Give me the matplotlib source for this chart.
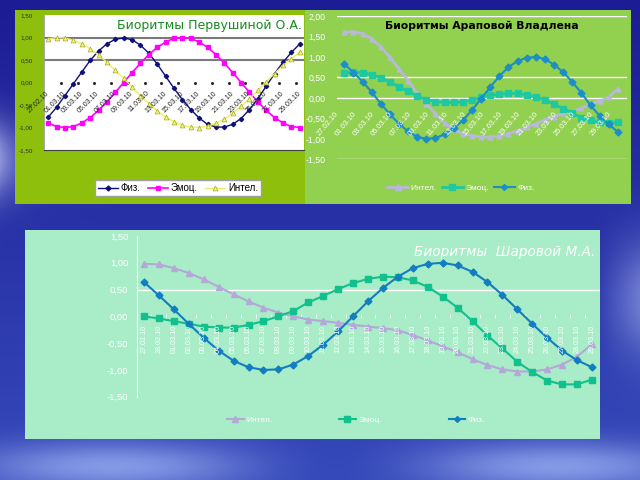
import numpy as np
import matplotlib
matplotlib.use("Agg")
import matplotlib.pyplot as plt
from matplotlib.lines import Line2D

plt.rcParams['font.family'] = ['Liberation Sans', 'DejaVu Sans']

# ---- data ----
dates = ['27.02.10', '28.02.10', '01.03.10', '02.03.10', '03.03.10', '04.03.10', '05.03.10',
         '06.03.10', '07.03.10', '08.03.10', '09.03.10', '10.03.10', '11.03.10', '12.03.10',
         '13.03.10', '14.03.10', '15.03.10', '16.03.10', '17.03.10', '18.03.10', '19.03.10',
         '20.03.10', '21.03.10', '22.03.10', '23.03.10', '24.03.10', '25.03.10', '26.03.10',
         '27.03.10', '28.03.10', '29.03.10']
dates_2 = dates[::2]

# Первушина
p1_fiz = [-0.77, -0.55, -0.29, -0.03, 0.23, 0.49, 0.70, 0.86, 0.96, 0.99, 0.95, 0.83, 0.65, 0.41,
          0.14, -0.13, -0.38, -0.60, -0.79, -0.93, -0.99, -0.99, -0.93, -0.80, -0.60, -0.36,
          -0.08, 0.20, 0.45, 0.67, 0.86]
p1_emo = [-0.90, -0.98, -1.00, -0.98, -0.90, -0.78, -0.62, -0.43, -0.22, 0.00, 0.22, 0.43, 0.62,
          0.78, 0.90, 0.98, 1.00, 0.98, 0.90, 0.78, 0.62, 0.43, 0.22, 0.00, -0.22, -0.43, -0.62,
          -0.78, -0.90, -0.98, -1.00]
p1_int = [0.97, 1.00, 0.99, 0.94, 0.86, 0.75, 0.61, 0.45, 0.27, 0.09, -0.10, -0.29, -0.47, -0.63,
          -0.77, -0.87, -0.95, -0.99, -1.00, -0.97, -0.91, -0.81, -0.68, -0.53, -0.36, -0.17,
          0.02, 0.20, 0.38, 0.53, 0.68]

# Арапова
p2_int = [1.60, 1.62, 1.57, 1.45, 1.24, 0.99, 0.71, 0.42, 0.11, -0.14, -0.39, -0.61, -0.77, -0.88,
          -0.92, -0.95, -0.96, -0.93, -0.88, -0.80, -0.72, -0.63, -0.54, -0.46, -0.38, -0.33,
          -0.25, -0.15, -0.08, 0.02, 0.22]
p2_emo = [0.60, 0.63, 0.61, 0.57, 0.49, 0.39, 0.27, 0.16, 0.04, -0.04, -0.09, -0.11, -0.11, -0.10,
          -0.05, 0.01, 0.06, 0.09, 0.11, 0.11, 0.07, 0.03, -0.05, -0.15, -0.26, -0.37, -0.48,
          -0.55, -0.60, -0.61, -0.60]
p2_fiz = [0.83, 0.62, 0.40, 0.14, -0.14, -0.40, -0.63, -0.82, -0.95, -1.00, -0.98, -0.89, -0.74,
          -0.55, -0.30, -0.02, 0.26, 0.53, 0.75, 0.90, 0.98, 1.00, 0.95, 0.81, 0.63, 0.39, 0.12,
          -0.18, -0.44, -0.65, -0.83]

# Шарова
p3_int = [0.98, 0.97, 0.90, 0.81, 0.69, 0.55, 0.41, 0.28, 0.16, 0.07, 0.00, -0.06, -0.09, -0.12,
          -0.16, -0.19, -0.22, -0.26, -0.35, -0.45, -0.56, -0.67, -0.80, -0.91, -0.99, -1.03,
          -1.03, -0.99, -0.90, -0.75, -0.52]
p3_emo = [0.00, -0.04, -0.09, -0.14, -0.19, -0.21, -0.21, -0.16, -0.09, 0.00, 0.10, 0.26, 0.38,
          0.51, 0.62, 0.70, 0.74, 0.73, 0.67, 0.55, 0.37, 0.16, -0.09, -0.36, -0.60, -0.85,
          -1.04, -1.20, -1.27, -1.27, -1.18]
p3_fiz = [0.64, 0.39, 0.13, -0.14, -0.40, -0.64, -0.83, -0.95, -1.00, -0.99, -0.90, -0.74, -0.53,
          -0.28, 0.00, 0.28, 0.53, 0.74, 0.90, 0.98, 1.00, 0.95, 0.83, 0.64, 0.40, 0.13, -0.14,
          -0.40, -0.64, -0.82, -0.95]

x = np.arange(len(dates))


def box(x0, y0, x1, y1):
    # pixel box -> figure fraction
    return [x0 / 640, 1 - y1 / 480, (x1 - x0) / 640, (y1 - y0) / 480]


def fmt(v):
    return f"{v:.2f}".replace('.', ',')


def panel(b, color):
    a = fig.add_axes(box(*b), zorder=-1)
    a.set_facecolor(color)
    a.set_xticks([])
    a.set_yticks([])
    for s in a.spines.values():
        s.set_visible(False)
    return a


fig = plt.figure(figsize=(6.4, 4.8), dpi=100)

# blue slide background
H, W = 480, 640
yy, xx = np.mgrid[0:H, 0:W]
yy = yy / H
xx = xx / W
bg = np.zeros((H, W, 3))
bg[..., 0] = 0.11 + 0.10 * yy
bg[..., 1] = 0.11 + 0.18 * yy
bg[..., 2] = 0.58 + 0.15 * yy
glow = 0.45 * np.exp(-((yy - 0.33) / 0.08) ** 2) * np.exp(-xx / 0.04)
glow += 0.35 * np.exp(-((yy - 0.97) / 0.05) ** 2) * (0.5 + 0.5 * np.sin(xx * 9))
glow += 0.30 * np.exp(-((yy - 0.62) / 0.12) ** 2) * np.clip((xx - 0.93) / 0.07, 0, 1)
for c in range(3):
    bg[..., c] = np.clip(bg[..., c] + glow * (0.9 if c < 2 else 0.5), 0, 1)
bga = fig.add_axes([0, 0, 1, 1], zorder=-2)
bga.imshow(bg, aspect='auto')
bga.axis('off')

# ---------------- chart 1 ----------------
panel((15, 10, 305, 204), '#8dbf0c')
ax1 = fig.add_axes(box(44, 15, 304, 150))
ax1.set_facecolor('white')
ax1.set_xlim(-0.5, 30.5)
ax1.set_ylim(-1.5, 1.5)
for v in [1.0, 0.5]:
    ax1.axhline(v, color='#7a7a7a', lw=1.5, zorder=1)
ax1.plot(x, p1_fiz, color='#10107a', lw=1, marker='D', ms=2.2, zorder=3)
ax1.plot(x, p1_emo, color='#ff00ff', lw=1.2, marker='s', ms=3.5, zorder=3)
ax1.plot(x, p1_int, color='#eef060', lw=1, marker='^', ms=3.5, mfc='#f4f480', mec='#a8a820',
         mew=0.5, zorder=3)
ax1.plot(np.arange(1.5, 30, 2), np.zeros(15), ls='none', marker='s', ms=1, color='#202020')
ax1.set_xticks([])
yt = np.arange(-1.5, 1.51, 0.5)
ax1.set_yticks(yt)
ax1.set_yticklabels([fmt(v) for v in yt], fontsize=4.5, color='#303030')
ax1.tick_params(axis='y', length=0, pad=8)
for s in ['top', 'right']:
    ax1.spines[s].set_visible(False)
ax1.spines['left'].set_color('#999999')
ax1.spines['left'].set_linewidth(0.6)
ax1.spines['bottom'].set_color('#404040')
for i, lab in zip(x[::2], dates_2):
    ax1.text(i, -0.22, lab, rotation=45, rotation_mode='anchor', ha='right', va='center',
             fontsize=5, color='#222222', zorder=5)
fig.text(302 / 640, 1 - 25 / 480, 'Биоритмы Первушиной О.А.', ha='right', va='center',
         fontsize=9, color='#1a8a22', family='DejaVu Sans')
h1 = [Line2D([], [], color='#10107a', lw=1, marker='D', ms=2.5),
      Line2D([], [], color='#ff00ff', lw=1.2, marker='s', ms=3.5),
      Line2D([], [], color='#eef060', lw=1, marker='^', ms=3.5, mfc='#f4f480', mec='#a8a820',
             mew=0.5)]
fig.legend(h1, ['Физ.', 'Эмоц.', 'Интел.'], loc='center', bbox_to_anchor=(178 / 640, 1 - 188 / 480),
           ncol=3, fontsize=7, frameon=True, fancybox=False, edgecolor='#a0a0a0', framealpha=1,
           handlelength=2, handletextpad=0.3, columnspacing=0.8, borderpad=0.35)

# ---------------- chart 2 ----------------
panel((305, 10, 631, 204), '#92d050')
ax2 = fig.add_axes(box(337, 16, 627, 159.3))
ax2.patch.set_visible(False)
ax2.set_xlim(-0.8, 31.0)
ax2.set_ylim(-1.5, 2.0)
for v in [2.0, 0.5, 0.0, -1.5]:
    ax2.axhline(v, color='white', lw=1, zorder=1)
ax2.plot(x, p2_int, color='#b8b8d8', lw=2, marker='^', ms=3.5, zorder=3)
ax2.plot(x, p2_emo, color='#1ec8a0', lw=2, marker='s', ms=5, zorder=3)
ax2.plot(x, p2_fiz, color='#1c8ec8', lw=1.5, marker='D', ms=3.5, zorder=3)
ax2.set_xticks([])
yt2 = np.arange(-1.5, 2.01, 0.5)
ax2.set_yticks(yt2)
ax2.set_yticklabels([fmt(v) for v in yt2], fontsize=6.3, color='white')
ax2.tick_params(axis='y', length=0, pad=8)
for s in ax2.spines.values():
    s.set_visible(False)
for i, lab in zip(x[::2], dates_2):
    ax2.text(i - 0.8, -0.36, lab, rotation=50, rotation_mode='anchor', ha='right', va='center',
             fontsize=5.4, color='white', zorder=5)
fig.text(482 / 640, 1 - 26 / 480, 'Биоритмы Араповой Владлена', ha='center', va='center',
         fontsize=7.8, color='black', fontweight='bold', family='DejaVu Sans')
h2 = [Line2D([], [], color='#b8b8d8', lw=2, marker='^', ms=4),
      Line2D([], [], color='#1ec8a0', lw=2, marker='s', ms=4),
      Line2D([], [], color='#1c8ec8', lw=1.5, marker='D', ms=3)]
fig.legend(h2, ['Интел.', 'Эмоц.', 'Физ.'], loc='center', bbox_to_anchor=(461 / 640, 1 - 188 / 480),
           ncol=3, fontsize=6, frameon=False, labelcolor='white', handlelength=2.5,
           handletextpad=0.3, columnspacing=0.6)

# ---------------- chart 3 ----------------
panel((25, 230, 600, 439), '#a8ecc8')
ax3 = fig.add_axes(box(136.5, 236, 599.5, 396.7))
ax3.patch.set_visible(False)
ax3.set_xlim(-0.5, 30.5)
ax3.set_ylim(-1.5, 1.5)
ax3.axhline(0.5, color='white', lw=1, zorder=1)
ax3.plot(x, p3_int, color='#b4a8d8', lw=1.5, marker='^', ms=4, zorder=3)
ax3.plot(x, p3_emo, color='#12c08e', lw=1.5, marker='s', ms=5, zorder=3)
ax3.plot(x, p3_fiz, color='#127ec0', lw=1.5, marker='D', ms=3.5, zorder=3)
ax3.plot(np.arange(0.5, 30, 1), np.zeros(30), ls='none', marker='|', ms=3, color='white', mew=0.6)
ax3.set_xticks([])
ax3.set_yticks(yt)
ax3.set_yticklabels([fmt(v) for v in yt], fontsize=6.8, color='white')
ax3.tick_params(axis='y', length=0, pad=6)
for s in ['top', 'right', 'bottom']:
    ax3.spines[s].set_visible(False)
ax3.spines['left'].set_color('white')
for i, lab in zip(x, dates):
    ax3.text(i, -0.16, lab, rotation=90, ha='center', va='top', fontsize=5.2, color='white',
             zorder=5)
fig.text(595 / 640, 1 - 252 / 480, 'Биоритмы  Шаровой М.А.', ha='right', va='center',
         fontsize=9.8, color='white', style='italic', family='DejaVu Sans')
h3 = [Line2D([], [], color='#b4a8d8', lw=1.5, marker='^', ms=4),
      Line2D([], [], color='#12c08e', lw=1.5, marker='s', ms=4),
      Line2D([], [], color='#127ec0', lw=1.5, marker='D', ms=3)]
fig.legend(h3, ['Интел.', 'Эмоц.', 'Физ.'], loc='center', bbox_to_anchor=(356 / 640, 1 - 420 / 480),
           ncol=3, fontsize=6, frameon=False, labelcolor='white', handlelength=2,
           handletextpad=0.3, columnspacing=8)

fig.savefig('out.png', dpi=100)
